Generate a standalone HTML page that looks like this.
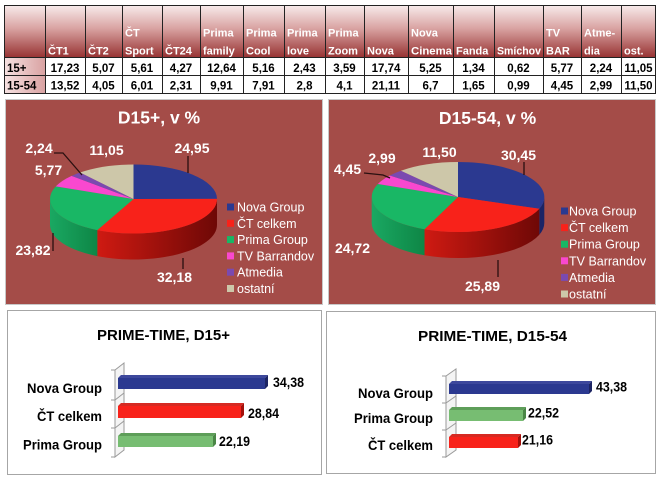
<!DOCTYPE html>
<html><head><meta charset="utf-8"><style>
html,body{margin:0;padding:0;background:#fff;}
svg{display:block;}
text{font-family:"Liberation Sans",sans-serif;}
</style></head><body>
<svg width="662" height="482" viewBox="0 0 662 482" xmlns="http://www.w3.org/2000/svg">
<defs>
<linearGradient id="hdr" x1="0" y1="0" x2="0" y2="1">
<stop offset="0" stop-color="#f8ecec"/><stop offset="0.45" stop-color="#d9a3a2"/><stop offset="1" stop-color="#983434"/>
</linearGradient>
<linearGradient id="rl" x1="0" y1="0" x2="1" y2="0">
<stop offset="0" stop-color="#f6e2e2"/><stop offset="1" stop-color="#d9a2a2"/>
</linearGradient>
<linearGradient id="red1" gradientUnits="userSpaceOnUse" x1="97" y1="0" x2="217" y2="0">
<stop offset="0" stop-color="#cf1a12"/><stop offset="1" stop-color="#6e0806"/>
</linearGradient>
<linearGradient id="grn1" gradientUnits="userSpaceOnUse" x1="50" y1="0" x2="97" y2="0">
<stop offset="0" stop-color="#1aa862"/><stop offset="1" stop-color="#0e8646"/>
</linearGradient>
<linearGradient id="red2" gradientUnits="userSpaceOnUse" x1="424" y1="0" x2="540" y2="0">
<stop offset="0" stop-color="#cf1a12"/><stop offset="1" stop-color="#6e0806"/>
</linearGradient>
<linearGradient id="grn2" gradientUnits="userSpaceOnUse" x1="372" y1="0" x2="424" y2="0">
<stop offset="0" stop-color="#1aa862"/><stop offset="1" stop-color="#0e8646"/>
</linearGradient>
</defs>

<!-- TABLE -->
<rect x="4" y="5" width="652" height="52" fill="url(#hdr)"/>
<rect x="4" y="57" width="41" height="37" fill="url(#rl)"/>
<g stroke="#222" stroke-width="1" fill="none">
<rect x="4.5" y="5.5" width="651" height="88"/>
<line x1="4" y1="57.5" x2="656" y2="57.5"/>
<line x1="4" y1="75.5" x2="656" y2="75.5"/>
<line x1="45.5" y1="5" x2="45.5" y2="94"/>
<line x1="85.5" y1="5" x2="85.5" y2="94"/>
<line x1="122.5" y1="5" x2="122.5" y2="94"/>
<line x1="162.5" y1="5" x2="162.5" y2="94"/>
<line x1="200.5" y1="5" x2="200.5" y2="94"/>
<line x1="243.5" y1="5" x2="243.5" y2="94"/>
<line x1="284.5" y1="5" x2="284.5" y2="94"/>
<line x1="325.5" y1="5" x2="325.5" y2="94"/>
<line x1="364.5" y1="5" x2="364.5" y2="94"/>
<line x1="408.5" y1="5" x2="408.5" y2="94"/>
<line x1="453.5" y1="5" x2="453.5" y2="94"/>
<line x1="494.5" y1="5" x2="494.5" y2="94"/>
<line x1="543.5" y1="5" x2="543.5" y2="94"/>
<line x1="581.5" y1="5" x2="581.5" y2="94"/>
<line x1="621.5" y1="5" x2="621.5" y2="94"/>
</g>
<g fill="#fff" font-weight="bold" font-size="11">
<text x="48" y="54.5">ČT1</text>
<text x="88" y="54.5">ČT2</text>
<text x="125" y="36.5">ČT</text><text x="125" y="54.5">Sport</text>
<text x="165" y="54.5">ČT24</text>
<text x="203" y="36.5">Prima</text><text x="203" y="54.5">family</text>
<text x="246" y="36.5">Prima</text><text x="246" y="54.5">Cool</text>
<text x="287" y="36.5">Prima</text><text x="287" y="54.5">love</text>
<text x="328" y="36.5">Prima</text><text x="328" y="54.5">Zoom</text>
<text x="367" y="54.5">Nova</text>
<text x="411" y="36.5">Nova</text><text x="411" y="54.5" textLength="41" lengthAdjust="spacingAndGlyphs">Cinema</text>
<text x="456" y="54.5">Fanda</text>
<text x="497" y="54.5" textLength="44" lengthAdjust="spacingAndGlyphs">Smíchov</text>
<text x="546" y="36.5">TV</text><text x="546" y="54.5">BAR</text>
<text x="584" y="36.5">Atme-</text><text x="584" y="54.5">dia</text>
<text x="624" y="54.5">ost.</text>
</g>
<g fill="#000" font-weight="bold" font-size="11.5">
<text x="7" y="72">15+</text>
<text x="7" y="89.5">15-54</text>
</g>
<g fill="#000" font-weight="bold" font-size="11.5" text-anchor="middle">
<text x="65" y="72">17,23</text><text x="103.5" y="72">5,07</text><text x="142" y="72">5,61</text><text x="181" y="72">4,27</text><text x="221.5" y="72">12,64</text><text x="263.5" y="72">5,16</text><text x="304.5" y="72">2,43</text><text x="344.5" y="72">3,59</text><text x="386" y="72">17,74</text><text x="430.5" y="72">5,25</text><text x="473.5" y="72">1,34</text><text x="518.5" y="72">0,62</text><text x="562" y="72">5,77</text><text x="601" y="72">2,24</text><text x="638.5" y="72">11,05</text>
<text x="65" y="89.5">13,52</text><text x="103.5" y="89.5">4,05</text><text x="142" y="89.5">6,01</text><text x="181" y="89.5">2,31</text><text x="221.5" y="89.5">9,91</text><text x="263.5" y="89.5">7,91</text><text x="304.5" y="89.5">2,8</text><text x="344.5" y="89.5">4,1</text><text x="386" y="89.5">21,11</text><text x="430.5" y="89.5">6,7</text><text x="473.5" y="89.5">1,65</text><text x="518.5" y="89.5">0,99</text><text x="562" y="89.5">4,45</text><text x="601" y="89.5">2,99</text><text x="638.5" y="89.5">11,50</text>
</g>

<!-- PIE PANEL 1 -->
<rect x="5.5" y="99.5" width="317" height="205" fill="#a44c48" stroke="#c8c8c8" stroke-width="1"/>
<text x="159" y="123.5" fill="#fff" font-weight="bold" font-size="17.5" text-anchor="middle">D15+, v %</text>
<path d="M217 199 A83.5 34.5 0 0 1 97.33 230.09 L97.33 256.09 A83.5 34.5 0 0 0 217 225 Z" fill="url(#red1)"/>
<path d="M97.33 230.09 A83.5 34.5 0 0 1 50 199 L50 225 A83.5 34.5 0 0 0 97.33 256.09 Z" fill="url(#grn1)"/>
<path d="M133.5 199 L133.5 164.5 A83.5 34.5 0 0 1 217 198.9 Z" fill="#2b3990"/>
<path d="M133.5 199 L217 198.9 A83.5 34.5 0 0 1 97.33 230.09 Z" fill="#f8221a"/>
<path d="M133.5 199 L97.33 230.09 A83.5 34.5 0 0 1 55.77 186.4 Z" fill="#19b765"/>
<path d="M133.5 199 L55.77 186.4 A83.5 34.5 0 0 1 71.63 175.83 Z" fill="#f948cf"/>
<path d="M133.5 199 L71.63 175.83 A83.5 34.5 0 0 1 80.12 172.47 Z" fill="#7a4ab0"/>
<path d="M133.5 199 L80.12 172.47 A83.5 34.5 0 0 1 133.5 164.5 Z" fill="#cdc7a9"/>
<g stroke="#2a1010" stroke-width="1.3" fill="none">
<polyline points="188,156 188,173"/>
<polyline points="54,153 63,153 82,175"/>
<polyline points="53,233 53,251"/>
<polyline points="183,258 183,269"/>
</g>
<g fill="#fff" font-weight="bold" font-size="14" text-anchor="middle">
<text x="192" y="153">24,95</text>
<text x="106.5" y="155">11,05</text>
<text x="39" y="153">2,24</text>
<text x="48.5" y="175">5,77</text>
<text x="33" y="255">23,82</text>
<text x="174.5" y="282">32,18</text>
</g>
<rect x="227" y="203.5" width="7" height="7" fill="#2b3990"/>
<rect x="227" y="219.8" width="7" height="7" fill="#f8221a"/>
<rect x="227" y="236.1" width="7" height="7" fill="#19b765"/>
<rect x="227" y="252.4" width="7" height="7" fill="#f948cf"/>
<rect x="227" y="268.7" width="7" height="7" fill="#7a4ab0"/>
<rect x="227" y="285" width="7" height="7" fill="#cdc7a9"/>
<g fill="#fff" font-size="12.5">
<text x="237" y="211.5">Nova Group</text>
<text x="237" y="227.8">ČT celkem</text>
<text x="237" y="244.1">Prima Group</text>
<text x="237" y="260.4">TV Barrandov</text>
<text x="237" y="276.7">Atmedia</text>
<text x="237" y="293">ostatní</text>
</g>

<!-- PIE PANEL 2 -->
<rect x="328.5" y="99.5" width="327" height="205" fill="#a44c48" stroke="#c8c8c8" stroke-width="1"/>
<text x="487.5" y="124" fill="#fff" font-weight="bold" font-size="17.5" text-anchor="middle">D15-54, v %</text>
<path d="M544.3 197 A86.3 35 0 0 1 539.29 208.75 L539.29 234.75 A86.3 35 0 0 0 544.3 223 Z" fill="#1a2466"/>
<path d="M539.29 208.75 A86.3 35 0 0 1 424.53 229.26 L424.53 255.26 A86.3 35 0 0 0 539.29 234.75 Z" fill="url(#red2)"/>
<path d="M424.53 229.26 A86.3 35 0 0 1 371.7 197 L371.7 223 A86.3 35 0 0 0 424.53 255.26 Z" fill="url(#grn2)"/>
<path d="M458 197 L458 162 A86.3 35 0 0 1 539.29 208.75 Z" fill="#2b3990"/>
<path d="M458 197 L539.29 208.75 A86.3 35 0 0 1 424.53 229.26 Z" fill="#f8221a"/>
<path d="M458 197 L424.53 229.26 A86.3 35 0 0 1 377.87 184 Z" fill="#19b765"/>
<path d="M458 197 L377.87 184 A86.3 35 0 0 1 389.81 175.54 Z" fill="#f948cf"/>
<path d="M458 197 L389.81 175.54 A86.3 35 0 0 1 400.92 170.75 Z" fill="#7a4ab0"/>
<path d="M458 197 L400.92 170.75 A86.3 35 0 0 1 458 162 Z" fill="#cdc7a9"/>
<g stroke="#2a1010" stroke-width="1.3" fill="none">
<polyline points="524,162 524,175"/>
<polyline points="364,173 383,175 390,178"/>
<polyline points="498,260 498,277"/>
</g>
<g fill="#fff" font-weight="bold" font-size="14" text-anchor="middle">
<text x="518.5" y="160">30,45</text>
<text x="439.5" y="157">11,50</text>
<text x="382" y="163">2,99</text>
<text x="347.5" y="174">4,45</text>
<text x="352.5" y="253">24,72</text>
<text x="482.5" y="291">25,89</text>
</g>
<rect x="561" y="207.5" width="7" height="7" fill="#2b3990"/>
<rect x="561" y="224.1" width="7" height="7" fill="#f8221a"/>
<rect x="561" y="240.7" width="7" height="7" fill="#19b765"/>
<rect x="561" y="257.3" width="7" height="7" fill="#f948cf"/>
<rect x="561" y="273.9" width="7" height="7" fill="#7a4ab0"/>
<rect x="561" y="290.5" width="7" height="7" fill="#cdc7a9"/>
<g fill="#fff" font-size="12.5">
<text x="569" y="215.5">Nova Group</text>
<text x="569" y="232.1">ČT celkem</text>
<text x="569" y="248.7">Prima Group</text>
<text x="569" y="265.3">TV Barrandov</text>
<text x="569" y="281.9">Atmedia</text>
<text x="569" y="298.5">ostatní</text>
</g>

<!-- BAR PANEL 1 -->
<rect x="7.5" y="310.5" width="314" height="164" fill="#fff" stroke="#a6a6a6" stroke-width="1"/>
<text x="97" y="340" fill="#000" font-weight="bold" font-size="14.5" textLength="133" lengthAdjust="spacingAndGlyphs">PRIME-TIME, D15+</text>
<path d="M115 370 L124 363 L124 450 L115 457 Z" fill="#f4f4f4" stroke="#9a9a9a" stroke-width="1"/>
<g stroke="#9a9a9a" stroke-width="1">
<line x1="111" y1="370" x2="115" y2="370"/>
<line x1="111" y1="400" x2="115" y2="400"/><line x1="115" y1="400" x2="124" y2="393"/>
<line x1="111" y1="428" x2="115" y2="428"/><line x1="115" y1="428" x2="124" y2="421"/>
<line x1="111" y1="457" x2="115" y2="457"/>
</g>
<path d="M118 378 L121 375 L268 375 L265 378 Z" fill="#3d489c"/>
<path d="M265 378 L268 375 L268 386 L265 389 Z" fill="#1c2463"/>
<rect x="118" y="378" width="147" height="11" fill="#2b3990"/>
<path d="M118 406 L121 403 L244 403 L241 406 Z" fill="#d62a22"/>
<path d="M241 406 L244 403 L244 415 L241 418 Z" fill="#a3100b"/>
<rect x="118" y="406" width="123" height="12" fill="#f8221a"/>
<path d="M118 436 L121 433 L216 433 L213 436 Z" fill="#5e9e59"/>
<path d="M213 436 L216 433 L216 444 L213 447 Z" fill="#4a8646"/>
<rect x="118" y="436" width="95" height="11" fill="#77bd72"/>
<g fill="#000" font-weight="bold" font-size="13.5">
<text x="273" y="387" textLength="31" lengthAdjust="spacingAndGlyphs">34,38</text>
<text x="248" y="418" textLength="31" lengthAdjust="spacingAndGlyphs">28,84</text>
<text x="219" y="446" textLength="31" lengthAdjust="spacingAndGlyphs">22,19</text>
</g>
<g fill="#000" font-weight="bold" font-size="14">
<text x="27" y="393" textLength="75" lengthAdjust="spacingAndGlyphs">Nova Group</text>
<text x="37" y="421" textLength="65" lengthAdjust="spacingAndGlyphs">ČT celkem</text>
<text x="23" y="449.5" textLength="79" lengthAdjust="spacingAndGlyphs">Prima Group</text>
</g>

<!-- BAR PANEL 2 -->
<rect x="326.5" y="311.5" width="329" height="162" fill="#fff" stroke="#a6a6a6" stroke-width="1"/>
<text x="418" y="341" fill="#000" font-weight="bold" font-size="14.5" textLength="149" lengthAdjust="spacingAndGlyphs">PRIME-TIME, D15-54</text>
<path d="M446 376 L456 369 L456 450 L446 457 Z" fill="#f4f4f4" stroke="#9a9a9a" stroke-width="1"/>
<g stroke="#9a9a9a" stroke-width="1">
<line x1="442" y1="376" x2="446" y2="376"/>
<line x1="442" y1="403" x2="446" y2="403"/><line x1="446" y1="403" x2="456" y2="396"/>
<line x1="442" y1="430" x2="446" y2="430"/><line x1="446" y1="430" x2="456" y2="423"/>
<line x1="442" y1="457" x2="446" y2="457"/>
</g>
<path d="M449 384 L452 381 L592 381 L589 384 Z" fill="#3d489c"/>
<path d="M589 384 L592 381 L592 391 L589 394 Z" fill="#1c2463"/>
<rect x="449" y="384" width="140" height="10" fill="#2b3990"/>
<path d="M449 410 L452 407 L526 407 L523 410 Z" fill="#5e9e59"/>
<path d="M523 410 L526 407 L526 418 L523 421 Z" fill="#4a8646"/>
<rect x="449" y="410" width="74" height="11" fill="#77bd72"/>
<path d="M449 437 L452 434 L521 434 L518 437 Z" fill="#d62a22"/>
<path d="M518 437 L521 434 L521 445 L518 448 Z" fill="#a3100b"/>
<rect x="449" y="437" width="69" height="11" fill="#f8221a"/>
<g fill="#000" font-weight="bold" font-size="13.5">
<text x="596" y="391.5" textLength="31" lengthAdjust="spacingAndGlyphs">43,38</text>
<text x="528" y="417.5" textLength="31" lengthAdjust="spacingAndGlyphs">22,52</text>
<text x="522" y="444.5" textLength="31" lengthAdjust="spacingAndGlyphs">21,16</text>
</g>
<g fill="#000" font-weight="bold" font-size="14">
<text x="358" y="398" textLength="75" lengthAdjust="spacingAndGlyphs">Nova Group</text>
<text x="354" y="423" textLength="79" lengthAdjust="spacingAndGlyphs">Prima Group</text>
<text x="368" y="450" textLength="65" lengthAdjust="spacingAndGlyphs">ČT celkem</text>
</g>
</svg>
</body></html>
